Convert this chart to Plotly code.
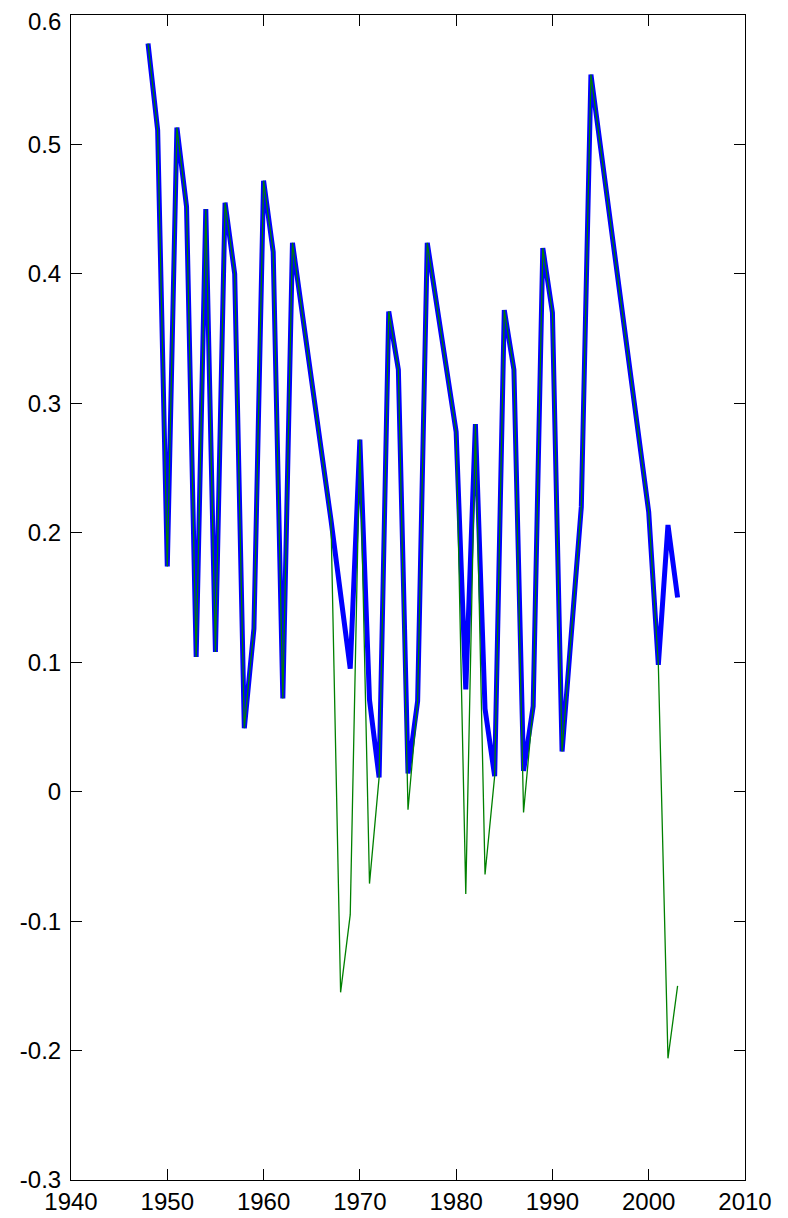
import plotly.graph_objects as go

# Data
years = [1948, 1949, 1950, 1951, 1952, 1953, 1954, 1955, 1956, 1957, 1958, 1959,
         1960, 1961, 1962, 1963, 1967, 1968, 1969, 1970, 1971, 1972, 1973, 1974,
         1975, 1976, 1977, 1980, 1981, 1982, 1983, 1984, 1985, 1986, 1987, 1988,
         1989, 1990, 1991, 1993, 1994, 2000, 2001, 2002, 2003]

raw_values = [0.578, 0.511, 0.174, 0.513, 0.452, 0.104, 0.450, 0.108, 0.455, 0.400,
              0.049, 0.126, 0.472, 0.417, 0.072, 0.424, 0.210, -0.155, -0.095, 0.272,
              -0.071, 0.011, 0.371, 0.326, -0.014, 0.070, 0.424, 0.278, -0.079, 0.284,
              -0.064, 0.012, 0.372, 0.326, -0.016, 0.066, 0.420, 0.370, 0.031, 0.220,
              0.554, 0.216, 0.098, -0.206, -0.150]

abs_values = [0.578, 0.511, 0.174, 0.513, 0.452, 0.104, 0.450, 0.108, 0.455, 0.400,
              0.049, 0.126, 0.472, 0.417, 0.072, 0.424, 0.210, 0.155, 0.095, 0.272,
              0.071, 0.011, 0.371, 0.326, 0.014, 0.070, 0.424, 0.278, 0.079, 0.284,
              0.064, 0.012, 0.372, 0.326, 0.016, 0.066, 0.420, 0.370, 0.031, 0.220,
              0.554, 0.216, 0.098, 0.206, 0.150]

x_ticks = [1940, 1950, 1960, 1970, 1980, 1990, 2000, 2010]
x_tick_labels = ["1940", "1950", "1960", "1970", "1980", "1990", "2000", "2010"]
y_ticks = [-0.3, -0.2, -0.1, 0, 0.1, 0.2, 0.3, 0.4, 0.5, 0.6]
y_tick_labels = ["-0.3", "-0.2", "-0.1", "0", "0.1", "0.2", "0.3", "0.4", "0.5", "0.6"]

fig = go.Figure()
fig.add_trace(go.Scatter(x=years, y=abs_values, mode="lines",
                         line=dict(color="rgb(0,0,255)", width=5),
                         showlegend=False))
fig.add_trace(go.Scatter(x=years, y=raw_values, mode="lines",
                         line=dict(color="rgb(0,128,0)", width=1.3),
                         showlegend=False))

font = dict(family="Liberation Sans, Arial, sans-serif", size=24, color="black")

# The topmost y label sits against the page edge, so it is nudged down a little
# (as in the reference) and drawn as an annotation at its tick value.
shown_y_text = y_tick_labels[:-1] + [""]

fig.update_layout(
    width=780, height=1210,
    margin=dict(l=63, r=43, t=7, b=38, autoexpand=False),
    paper_bgcolor="white", plot_bgcolor="white",
    font=font,
    showlegend=False,
    annotations=[dict(text=y_tick_labels[-1], xref="paper", yref="y",
                      x=0, y=y_ticks[-1], xanchor="right", yanchor="middle",
                      xshift=-8, yshift=-6, showarrow=False, font=font)],
)
fig.update_xaxes(range=[1940, 2010], tickvals=x_ticks, ticktext=x_tick_labels,
                 showgrid=False, zeroline=False, showline=True, linecolor="black",
                 linewidth=1, mirror="allticks", ticks="inside", ticklen=11,
                 tickcolor="black", tickfont=font, automargin=False,
                 ticklabelstandoff=0, ticklabeloverflow="allow")
fig.update_yaxes(range=[-0.3, 0.6], tickvals=y_ticks, ticktext=shown_y_text,
                 showgrid=False, zeroline=False, showline=True, linecolor="black",
                 linewidth=1, mirror="allticks", ticks="inside", ticklen=11,
                 tickcolor="black", tickfont=font, automargin=False,
                 ticklabelstandoff=4, ticklabeloverflow="allow")

fig.write_html("out.html")
